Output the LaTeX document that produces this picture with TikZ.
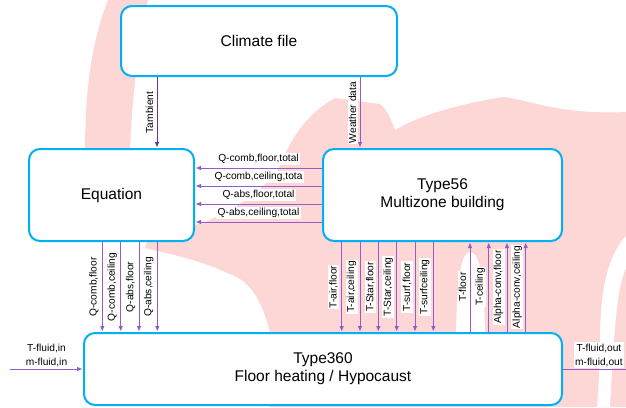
\documentclass[tikz,border=0pt]{standalone}
\usepackage{fontspec}
\setmainfont{Liberation Sans}
\usetikzlibrary{arrows.meta}
\definecolor{boxblue}{RGB}{0,176,240}
\definecolor{flowpurple}{RGB}{148,92,200}
\definecolor{flowdark}{RGB}{112,48,160}
\definecolor{blush}{RGB}{253,214,214}
\begin{document}
\begin{tikzpicture}[x=1pt,y=-1pt,
  block/.style={draw=boxblue, line width=2pt, rounded corners=11pt, fill=white,
    inner sep=0pt, align=center, font=\fontsize{15.5}{18}\selectfont},
  flow/.style={draw=flowpurple, line width=0.8pt,
    -{Triangle[length=5pt,width=4pt]}, shorten >=1pt},
  flowline/.style={draw=flowpurple, line width=0.8pt},
  lab/.style={fill=white, inner sep=1.2pt, font=\fontsize{10.2}{12}\selectfont},
  vlab/.style={lab, midway, rotate=90, anchor=south, outer sep=2.5pt},
  hlab/.style={lab, midway, anchor=south, outer sep=3pt},
  fluidlab/.style={lab, anchor=south, outer sep=1.5pt, align=center,
    font=\fontsize{10.2}{14}\selectfont},
]
\useasboundingbox (0,0) rectangle (626,407);

% soft background swirl
\fill[blush] (108,0) .. controls (92,40) and (85,90) .. (85,150) -- (85,200)
  -- (128,200) -- (130,150) .. controls (132,90) and (140,40) .. (148,0) -- cycle;
\fill[blush] (278,170) .. controls (290,140) and (305,115) .. (335,98)
  -- (380,104) .. controls (388,110) and (392,122) .. (395,130)
  .. controls (420,115) and (460,104) .. (503,97)
  .. controls (530,100) and (560,115) .. (626,112)
  -- (626,407) -- (270,407) -- (270,333)
  .. controls (262,300) and (250,280) .. (227,273)
  .. controls (205,262) and (175,255) .. (145,248)
  -- (150,232) .. controls (200,232) and (250,205) .. (278,170) -- cycle;
\fill[white] (456,345) .. controls (456,275) and (462,252) .. (470,252)
  .. controls (480,252) and (485,280) .. (485,345) -- cycle;
\fill[white] (626,236) .. controls (608,255) and (600,290) .. (600,340)
  .. controls (600,370) and (598,390) .. (597,407) -- (610,407)
  .. controls (612,370) and (614,330) .. (618,300)
  .. controls (620,285) and (623,275) .. (626,268) -- cycle;

% blocks
\node[block, minimum width=276pt, minimum height=70pt] (climate) at (259,41) {Climate file};
\node[block, minimum width=165pt, minimum height=92pt] (equation) at (111.5,195) {Equation};
\node[block, minimum width=239pt, minimum height=92pt] (type56) at (442.5,195)
  {Type56\\Multizone building};
\node[block, minimum width=478pt, minimum height=72pt] (type360) at (323,369)
  {Type360\\Floor heating / Hypocaust};

% climate data
\coordinate (ct) at (157,0);
\coordinate (cw) at (360,0);
\draw[flow, draw=flowdark] (climate.south -| ct) -- (equation.north -| ct)
  node[vlab] {Tambient};
\draw[flow] (climate.south -| cw) -- (type56.north -| cw)
  node[vlab] {Weather data};

% heat flows from the building to the equation block
\foreach \y/\t in {168/{Q-comb,floor,total}, 186/{Q-comb,ceiling,tota},
                   204/{Q-abs,floor,total}, 222/{Q-abs,ceiling,total}} {
  \coordinate (r) at (0,\y);
  \draw[flow] (type56.west |- r) -- (equation.east |- r) node[hlab] {\t};
}

% equation outputs to the floor heating
\foreach \x/\t in {102.3/{Q-comb,floor}, 120.7/{Q-comb,ceiling},
                   139/{Q-abs,floor}, 157.3/{Q-abs,ceiling}} {
  \coordinate (c) at (\x,0);
  \draw[flow] (equation.south -| c) -- (type360.north -| c) node[vlab] {\t};
}

% building temperatures to the floor heating
\foreach \x/\t in {341.7/{T-air,floor}, 360/{T-air,ceiling}, 378.3/{T-Star,floor},
                   396.7/{T-Star,ceiling}, 415/{T-surf,floor}, 433.3/{T-surfceiling}} {
  \coordinate (c) at (\x,0);
  \draw[flow] (type56.south -| c) -- (type360.north -| c) node[vlab] {\t};
}

% floor heating results back to the building
\foreach \x/\t in {470/{T-floor}, 488.7/{T-ceiling},
                   507/{Alpha-conv,floor}, 525.7/{Alpha-conv,ceiling}} {
  \coordinate (c) at (\x,0);
  \draw[flow] (type360.north -| c) -- (type56.south -| c) node[vlab] {\t};
}

% fluid in and out
\coordinate (fin) at (10,369);
\coordinate (fout) at (626,369);
\draw[flow] (fin) -- (type360.west |- fin)
  node[fluidlab, midway] {T-fluid,in\\m-fluid,in};
\draw[flowline] (type360.east |- fout) -- (fout)
  node[fluidlab, pos=0.57] {T-fluid,out\\m-fluid,out};
\end{tikzpicture}
\end{document}
